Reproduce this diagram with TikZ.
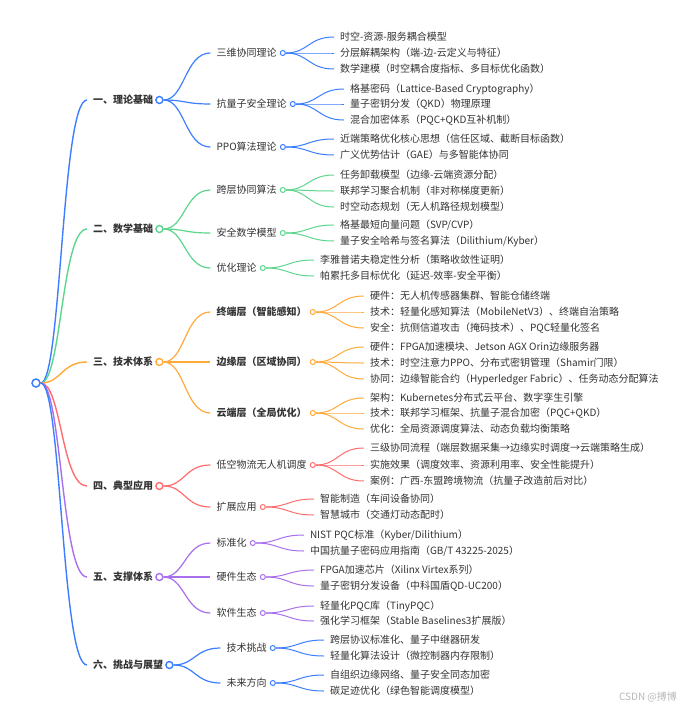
\documentclass[tikz,border=0pt]{standalone}
\usepackage{fontspec}
\setmainfont{Noto Sans CJK SC}
\usetikzlibrary{calc}
\pgfdeclarelayer{bg}
\pgfsetlayers{bg,main}
\definecolor{cb}{HTML}{3D7EFF}
\definecolor{cg}{HTML}{5CD68D}
\definecolor{co}{HTML}{FFAA3B}
\definecolor{cr}{HTML}{FF6E6E}
\definecolor{cp}{HTML}{A870EC}
\definecolor{tc}{HTML}{333333}
\tikzset{
  txt/.style={inner sep=0pt, text=tc, font=\fontsize{10}{12}\selectfont},
  bigdot/.style={circle, fill=white, line width=1.4pt, minimum size=7pt, inner sep=0pt},
  smalldot/.style={circle, fill=white, line width=1pt, minimum size=5pt, inner sep=0pt},
  rootdot/.style={circle, fill=white, line width=1.5pt, minimum size=8pt, inner sep=0pt, draw=cb}
}
% #1 name, #2 parent dot, #3 y, #4 text, #5 colour, #6 link width
\newcommand\leaf[6]{%
  \node[txt,anchor=west] (#1) at ($(#2 |- 0,#3)+(57,0)$) {#4};
  \coordinate (#1i) at ($(#1.west)+(-6,0)$);
  \path ($(#2)!0.5!(#1i)$) coordinate (#1m);
  \begin{pgfonlayer}{bg}
    \draw[#5,line width=#6] (#2) .. controls (#1m |- #2) and (#1m |- #1i) .. (#1i);
  \end{pgfonlayer}
}
% same, plus a dot; #7 dot style
\newcommand\hub[7]{%
  \leaf{#1}{#2}{#3}{#4}{#5}{#6}%
  \node[#7,draw=#5] (#1c) at ($(#1.east)+(6,0)$) {};
}
\begin{document}
\begin{tikzpicture}[x=1pt,y=-1pt]
\begin{pgfonlayer}{bg}
\fill[white] (0,0) rectangle (690,710);
\end{pgfonlayer}
\useasboundingbox (0,0) rectangle (690,710);

\node[rootdot] (R) at (36,383) {};

% 一
\hub{A}{R}{100}{\bfseries 一、理论基础}{cb}{1.4pt}{bigdot}
\hub{A1}{Ac}{53}{三维协同理论}{cb}{1.2pt}{smalldot}
\leaf{A11}{A1c}{37}{时空-资源-服务耦合模型}{cb}{1pt}
\leaf{A12}{A1c}{53}{分层解耦架构（端-边-云定义与特征）}{cb}{1pt}
\leaf{A13}{A1c}{69}{数学建模（时空耦合度指标、多目标优化函数）}{cb}{1pt}
\hub{A2}{Ac}{104}{抗量子安全理论}{cb}{1.2pt}{smalldot}
\leaf{A21}{A2c}{89}{格基密码（Lattice-Based Cryptography）}{cb}{1pt}
\leaf{A22}{A2c}{104}{量子密钥分发（QKD）物理原理}{cb}{1pt}
\leaf{A23}{A2c}{120}{混合加密体系（PQC+QKD互补机制）}{cb}{1pt}
\hub{A3}{Ac}{147}{PPO算法理论}{cb}{1.2pt}{smalldot}
\leaf{A31}{A3c}{139}{近端策略优化核心思想（信任区域、截断目标函数）}{cb}{1pt}
\leaf{A32}{A3c}{155}{广义优势估计（GAE）与多智能体协同}{cb}{1pt}

% 二
\hub{B}{R}{229}{\bfseries 二、数学基础}{cg}{1.4pt}{bigdot}
\hub{B1}{Bc}{190}{跨层协同算法}{cg}{1.2pt}{smalldot}
\leaf{B11}{B1c}{175}{任务卸载模型（边缘-云端资源分配）}{cg}{1pt}
\leaf{B12}{B1c}{191}{联邦学习聚合机制（非对称梯度更新）}{cg}{1pt}
\leaf{B13}{B1c}{207}{时空动态规划（无人机路径规划模型）}{cg}{1pt}
\hub{B2}{Bc}{233}{安全数学模型}{cg}{1.2pt}{smalldot}
\leaf{B21}{B2c}{225}{格基最短向量问题（SVP/CVP）}{cg}{1pt}
\leaf{B22}{B2c}{241}{量子安全哈希与签名算法（Dilithium/Kyber）}{cg}{1pt}
\hub{B3}{Bc}{268}{优化理论}{cg}{1.2pt}{smalldot}
\leaf{B31}{B3c}{260}{李雅普诺夫稳定性分析（策略收敛性证明）}{cg}{1pt}
\leaf{B32}{B3c}{276}{帕累托多目标优化（延迟-效率-安全平衡）}{cg}{1pt}

% 三
\hub{C}{R}{362}{\bfseries 三、技术体系}{co}{1.4pt}{bigdot}
\hub{C1}{Cc}{312}{\bfseries 终端层（智能感知）}{co}{1.2pt}{smalldot}
\leaf{C11}{C1c}{296}{硬件：无人机传感器集群、智能仓储终端}{co}{1pt}
\leaf{C12}{C1c}{312}{技术：轻量化感知算法（MobileNetV3）、终端自治策略}{co}{1pt}
\leaf{C13}{C1c}{328}{安全：抗侧信道攻击（掩码技术）、PQC轻量化签名}{co}{1pt}
\hub{C2}{Cc}{362}{\bfseries 边缘层（区域协同）}{co}{1.2pt}{smalldot}
\leaf{C21}{C2c}{347}{硬件：FPGA加速模块、Jetson AGX Orin边缘服务器}{co}{1pt}
\leaf{C22}{C2c}{363}{技术：时空注意力PPO、分布式密钥管理（Shamir门限）}{co}{1pt}
\leaf{C23}{C2c}{379}{协同：边缘智能合约（Hyperledger Fabric）、任务动态分配算法}{co}{1pt}
\hub{C3}{Cc}{413}{\bfseries 云端层（全局优化）}{co}{1.2pt}{smalldot}
\leaf{C31}{C3c}{398}{架构：Kubernetes分布式云平台、数字孪生引擎}{co}{1pt}
\leaf{C32}{C3c}{413}{技术：联邦学习框架、抗量子混合加密（PQC+QKD）}{co}{1pt}
\leaf{C33}{C3c}{429}{优化：全局资源调度算法、动态负载均衡策略}{co}{1pt}

% 四
\hub{D}{R}{486}{\bfseries 四、典型应用}{cr}{1.4pt}{bigdot}
\hub{D1}{Dc}{465}{低空物流无人机调度}{cr}{1.2pt}{smalldot}
\leaf{D11}{D1c}{448}{三级协同流程（端层数据采集→边缘实时调度→云端策略生成）}{cr}{1pt}
\leaf{D12}{D1c}{465}{实施效果（调度效率、资源利用率、安全性能提升）}{cr}{1pt}
\leaf{D13}{D1c}{481}{案例：广西-东盟跨境物流（抗量子改造前后对比）}{cr}{1pt}
\hub{D2}{Dc}{507}{扩展应用}{cr}{1.2pt}{smalldot}
\leaf{D21}{D2c}{499}{智能制造（车间设备协同）}{cr}{1pt}
\leaf{D22}{D2c}{515}{智慧城市（交通灯动态配时）}{cr}{1pt}

% 五
\hub{E}{R}{577}{\bfseries 五、支撑体系}{cp}{1.4pt}{bigdot}
\hub{E1}{Ec}{543}{标准化}{cp}{1.2pt}{smalldot}
\leaf{E11}{E1c}{535}{NIST PQC标准（Kyber/Dilithium）}{cp}{1pt}
\leaf{E12}{E1c}{551}{中国抗量子密码应用指南（GB/T 43225-2025）}{cp}{1pt}
\hub{E2}{Ec}{577}{硬件生态}{cp}{1.2pt}{smalldot}
\leaf{E21}{E2c}{570}{FPGA加速芯片（Xilinx Virtex系列）}{cp}{1pt}
\leaf{E22}{E2c}{586}{量子密钥分发设备（中科国盾QD-UC200）}{cp}{1pt}
\hub{E3}{Ec}{613}{软件生态}{cp}{1.2pt}{smalldot}
\leaf{E31}{E3c}{606}{轻量化PQC库（TinyPQC）}{cp}{1pt}
\leaf{E32}{E3c}{621}{强化学习框架（Stable Baselines3扩展版）}{cp}{1pt}

% 六
\hub{F}{R}{665}{\bfseries 六、挑战与展望}{cb}{1.4pt}{bigdot}
\hub{F1}{Fc}{648}{技术挑战}{cb}{1.2pt}{smalldot}
\leaf{F11}{F1c}{640}{跨层协议标准化、量子中继器研发}{cb}{1pt}
\leaf{F12}{F1c}{656}{轻量化算法设计（微控制器内存限制）}{cb}{1pt}
\hub{F2}{Fc}{683}{未来方向}{cb}{1.2pt}{smalldot}
\leaf{F21}{F2c}{675}{自组织边缘网络、量子安全同态加密}{cb}{1pt}
\leaf{F22}{F2c}{691}{碳足迹优化（绿色智能调度模型）}{cb}{1pt}

\node[inner sep=0pt, text=black!28, font=\fontsize{10}{12}\selectfont] (wm) at (648,697) {CSDN @搏博};
\end{tikzpicture}
\end{document}
